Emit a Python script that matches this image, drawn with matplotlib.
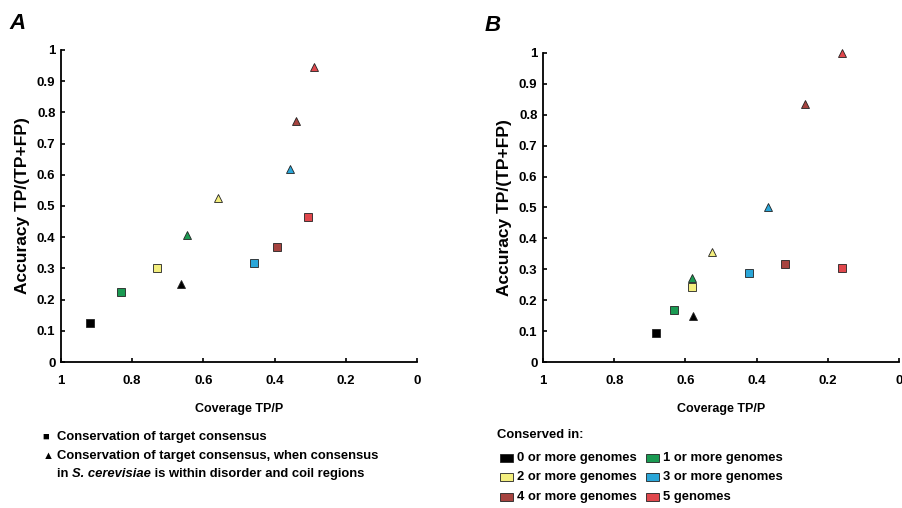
import matplotlib
matplotlib.use("Agg")
import matplotlib.pyplot as plt
from matplotlib.patches import Rectangle

plt.rcParams['font.family'] = ['Liberation Sans', 'DejaVu Sans']

# groups: conserved in N or more genomes
groups = ['0 or more genomes', '1 or more genomes', '2 or more genomes',
          '3 or more genomes', '4 or more genomes', '5 genomes']
colors = ['#000000', '#1a9a52', '#f3ee7e', '#2aa6d8', '#a6433f', '#e0474c']

# panel A (squares = target consensus, triangles = disorder/coil)
a_sq_x = [0.918, 0.831, 0.731, 0.458, 0.393, 0.307]
a_sq_y = [0.125, 0.225, 0.300, 0.317, 0.368, 0.464]
a_tr_x = [0.662, 0.645, 0.559, 0.356, 0.340, 0.290]
a_tr_y = [0.250, 0.406, 0.525, 0.618, 0.771, 0.945]

# panel B
b_sq_x = [0.684, 0.633, 0.581, 0.421, 0.319, 0.159]
b_sq_y = [0.094, 0.169, 0.243, 0.288, 0.318, 0.303]
b_tr_x = [0.580, 0.581, 0.526, 0.369, 0.264, 0.159]
b_tr_y = [0.150, 0.271, 0.357, 0.500, 0.834, 1.000]

xticks = [1, 0.8, 0.6, 0.4, 0.2, 0]
xticklabels = ['1', '0.8', '0.6', '0.4', '0.2', '0']
yticks = [0, 0.1, 0.2, 0.3, 0.4, 0.5, 0.6, 0.7, 0.8, 0.9, 1]
yticklabels = ['0', '0.1', '0.2', '0.3', '0.4', '0.5', '0.6', '0.7', '0.8', '0.9', '1']

fig = plt.figure(figsize=(9.02, 5.08), dpi=100)
ax = fig.add_axes([0.0676, 0.2874, 0.3947, 0.6142])
bx = fig.add_axes([0.6020, 0.2874, 0.3947, 0.6083])

def setup(axx, sqx, sqy, trx, try_):
    for i in range(len(groups)):
        axx.plot(sqx[i], sqy[i], 's', ms=5.7, mfc=colors[i], mec='#222222', mew=0.6, clip_on=False)
        axx.plot(trx[i], try_[i], '^', ms=6.3, mfc=colors[i], mec='#222222', mew=0.6, clip_on=False)
    axx.set_xlim(1, 0)
    axx.set_ylim(0, 1)
    axx.set_xticks(xticks)
    axx.set_xticklabels(xticklabels)
    axx.set_yticks(yticks)
    axx.set_yticklabels(yticklabels)
    axx.spines['top'].set_visible(False)
    axx.spines['right'].set_visible(False)
    axx.spines['left'].set_linewidth(1.3)
    axx.spines['bottom'].set_linewidth(1.3)
    axx.tick_params(direction='in', length=3, width=1.2, labelsize=9.5)
    axx.tick_params(axis='y', pad=4)
    axx.tick_params(axis='x', pad=9)
    for lab in axx.get_xticklabels() + axx.get_yticklabels():
        lab.set_fontweight('bold')
    axx.set_ylabel('Accuracy TP/(TP+FP)', fontsize=12.5, fontweight='bold', labelpad=5)
    axx.set_xlabel('Coverage TP/P', fontsize=9, fontweight='bold', labelpad=12)

setup(ax, a_sq_x, a_sq_y, a_tr_x, a_tr_y)
setup(bx, b_sq_x, b_sq_y, b_tr_x, b_tr_y)

fig.text(0.010, 0.943, 'A', fontsize=16, fontweight='bold', style='italic')
fig.text(0.537, 0.938, 'B', fontsize=16, fontweight='bold', style='italic')

# legend A
lf = 9.4
fig.text(0.047, 1 - 437 / 508, '\u25a0', fontsize=8, va='center')
fig.text(0.063, 1 - 437 / 508, 'Conservation of target consensus', fontsize=lf,
         fontweight='bold', va='center')
fig.text(0.047, 1 - 456 / 508, '\u25b2', fontsize=8, va='center')
fig.text(0.063, 1 - 456 / 508, 'Conservation of target consensus, when consensus',
         fontsize=lf, fontweight='bold', va='center')
t1 = fig.text(0.063, 1 - 474 / 508, 'in ', fontsize=lf, fontweight='bold', va='center')
t2 = ax.annotate('S. cerevisiae', xy=(1, 0.5), xycoords=t1, va='center', ha='left',
                 fontsize=lf, fontweight='bold', style='italic', annotation_clip=False)
ax.annotate(' is within disorder and coil regions', xy=(1, 0.5), xycoords=t2,
            va='center', ha='left', fontsize=lf, fontweight='bold', annotation_clip=False)

# legend B
fig.text(497 / 902, 1 - 435 / 508, 'Conserved in:', fontsize=lf, fontweight='bold',
         va='center')
rows_y = [458, 477, 497]
cols_x = [500, 646]
for i in range(len(groups)):
    r = i // 2
    c = i % 2
    px = cols_x[c]
    py = rows_y[r]
    fig.patches.append(Rectangle((px / 902, 1 - (py + 4) / 508), 13 / 902, 8 / 508,
                                 transform=fig.transFigure, facecolor=colors[i],
                                 edgecolor='#222222', linewidth=0.6))
    fig.text((px + 17) / 902, 1 - py / 508, groups[i], fontsize=lf, fontweight='bold',
             va='center')

fig.savefig('out.png', dpi=100)
